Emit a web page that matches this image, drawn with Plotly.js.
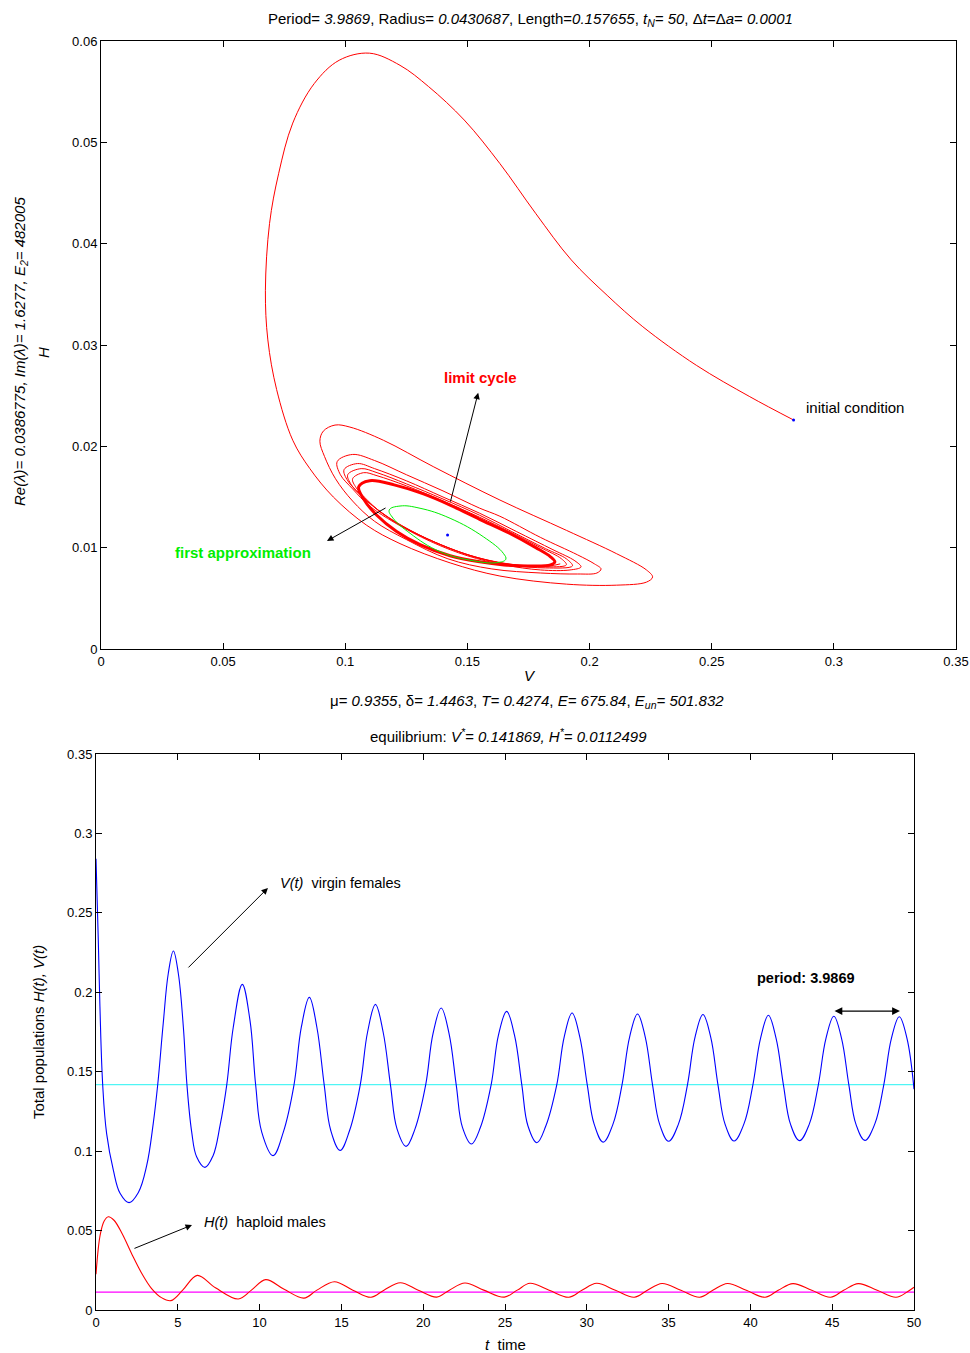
<!DOCTYPE html>
<html>
<head>
<meta charset="utf-8">
<script src="https://cdn.plot.ly/plotly-3.0.1.min.js"></script>
<style>html,body{margin:0;padding:0;background:#fff;}#chart{width:970px;height:1353px;}</style>
</head>
<body>
<div id="chart"></div>
<script>
// ---------- Phase plane data (V, H) ----------
const trajV = [0.2835,0.2656,0.2437,0.2218,0.2072,0.1925,0.1779,0.1633,0.1487,0.1341,0.1224,0.1099,0.0975,0.0873,0.0785,0.0727,0.0690,0.0673,0.0683,0.0719,0.0785,0.0855,0.0951,0.1088,0.1224,0.1429,0.1633,0.1906,0.2111,0.2233,0.2258,0.2233,0.2111,0.1906,0.1633,0.1360,0.1156,0.1019,0.0958,0.0910,0.0896,0.0915,0.0960,0.1030,0.1120,0.1250,0.1420,0.1600,0.1800,0.1950,0.2030,0.2047,0.2020,0.1950,0.1800,0.1633,0.1550,0.1400,0.1250,0.1120,0.1030,0.0967,0.0980,0.1030,0.1100,0.1200,0.1350,0.1500,0.1650,0.1800,0.1920,0.1965,0.1940,0.1850,0.1700,0.1550,0.1400,0.1250,0.1120,0.1050,0.0995,0.1010,0.1060,0.1130,0.1230,0.1380,0.1530,0.1680,0.1820,0.1930,0.1905,0.1820,0.1680,0.1550,0.1400,0.1250,0.1130,0.1065,0.1010,0.1025,0.1070,0.1140,0.1240,0.1390,0.1540,0.1690,0.1830,0.1905,0.1885,0.1800,0.1670,0.1550,0.1400,0.1250,0.1130,0.1075,0.1030,0.1045,0.1090,0.1150,0.1250,0.1400,0.1545,0.1700,0.1835,0.1880];
const trajH = [0.0226,0.0249,0.0280,0.0318,0.0349,0.0384,0.0430,0.0479,0.0522,0.0555,0.0576,0.0588,0.0581,0.0558,0.0519,0.0469,0.0420,0.0354,0.0305,0.0256,0.0206,0.0178,0.0150,0.0122,0.0104,0.0085,0.0072,0.0064,0.0063,0.0066,0.0071,0.0078,0.0094,0.0117,0.0147,0.0180,0.0206,0.0219,0.0221,0.0215,0.0205,0.0190,0.0168,0.0146,0.0126,0.0108,0.0089,0.0079,0.0075,0.0074,0.0075,0.0079,0.0084,0.0093,0.0110,0.0131,0.0139,0.0156,0.0172,0.0186,0.0192,0.0185,0.0172,0.0158,0.0141,0.0125,0.0106,0.0092,0.0083,0.0078,0.0078,0.0081,0.0087,0.0098,0.0116,0.0134,0.0150,0.0166,0.0178,0.0183,0.0177,0.0166,0.0153,0.0138,0.0122,0.0104,0.0091,0.0083,0.0080,0.0082,0.0089,0.0099,0.0116,0.0132,0.0148,0.0163,0.0174,0.0178,0.0172,0.0162,0.0150,0.0136,0.0120,0.0103,0.0090,0.0083,0.0081,0.0083,0.0089,0.0100,0.0116,0.0130,0.0146,0.0161,0.0171,0.0174,0.0168,0.0159,0.0147,0.0134,0.0119,0.0102,0.0090,0.0083,0.0082,0.0084];
// limit cycle (dense band of turns)
const cycleV = [0.1055,0.1100,0.1200,0.1320,0.1429,0.1550,0.1674,0.1780,0.1840,0.1858,0.1840,0.1750,0.1650,0.1550,0.1429,0.1306,0.1210,0.1129,0.1075,0.1055];
const cycleH = [0.0160,0.0166,0.0162,0.0153,0.0142,0.0128,0.0114,0.0100,0.0091,0.0086,0.0083,0.0082,0.0083,0.0086,0.0092,0.0103,0.0116,0.0132,0.0148,0.0160];
// first approximation (ellipse)
const approxV = [0.1180,0.1224,0.1306,0.1429,0.1565,0.1647,0.1657,0.1620,0.1524,0.1388,0.1265,0.1196,0.1180];
const approxH = [0.01372,0.01411,0.01389,0.01290,0.01108,0.00944,0.00885,0.00852,0.00871,0.00960,0.01142,0.01290,0.01372];
const Vstar = 0.141869, Hstar = 0.0112499;
const initV = 0.2835, initH = 0.0226;

// ---------- Time series ----------
const tV = [0,0.14,0.24,0.41,0.65,1.06,1.47,2.02,2.59,3.10,3.50,3.77,4.11,4.42,4.73,5.03,5.34,5.56,5.85,6.15,6.66,7.15,7.58,7.99,8.39,8.94,9.41,9.76,10.13,10.82,11.45,12.10,12.55,13.04,13.50,13.95,14.35,14.92,15.50,16.15,16.60,17.08,17.55,18.00,18.40,18.95,19.50,20.15,20.60,21.10,21.58,22.02,22.40,22.95,23.50,24.15,24.60,25.10,25.58,26.03,26.40,26.95,27.50,28.16,28.62,29.10,29.57,30.03,30.45,31.00,31.60,32.15,32.62,33.10,33.57,34.02,34.45,35.00,35.60,36.15,36.62,37.10,37.57,38.02,38.45,39.00,39.60,40.15,40.62,41.10,41.57,42.02,42.45,43.00,43.60,44.15,44.62,45.10,45.57,46.02,46.45,47.00,47.60,48.15,48.62,49.10,49.57,50.00];
const valV = [0.284,0.233,0.191,0.1416,0.111,0.088,0.0735,0.0676,0.0740,0.0910,0.1175,0.1416,0.1805,0.212,0.226,0.212,0.178,0.1416,0.112,0.0965,0.0898,0.0970,0.1160,0.1416,0.178,0.205,0.1825,0.1416,0.112,0.0972,0.112,0.1416,0.178,0.1968,0.178,0.1416,0.113,0.1005,0.113,0.1416,0.175,0.1924,0.175,0.1416,0.114,0.1030,0.114,0.1416,0.174,0.1901,0.174,0.1416,0.115,0.1045,0.115,0.1416,0.173,0.1880,0.173,0.1416,0.116,0.1053,0.116,0.1416,0.172,0.1870,0.172,0.1416,0.117,0.1057,0.117,0.1416,0.172,0.1863,0.172,0.1416,0.117,0.1062,0.117,0.1416,0.172,0.1860,0.172,0.1416,0.117,0.1064,0.117,0.1416,0.171,0.1855,0.171,0.1416,0.117,0.1066,0.117,0.1416,0.171,0.1849,0.171,0.1416,0.117,0.1068,0.117,0.1416,0.171,0.1846,0.171,0.139];
const tH = [0,0.25,0.5,0.75,1.1,1.6,2.2,2.8,3.4,4.0,4.58,5.3,6.19,7.3,8.7,9.5,10.37,11.5,12.71,13.5,14.57,15.7,16.81,17.6,18.6,19.7,20.82,21.6,22.55,23.7,24.96,25.75,26.53,27.7,28.9,29.7,30.6,31.75,32.9,33.7,34.6,35.75,36.9,37.7,38.6,39.75,40.9,41.7,42.6,43.75,44.9,45.7,46.6,47.75,48.9,49.6,50.0];
const valH = [0.0225,0.047,0.056,0.0587,0.0565,0.048,0.035,0.023,0.0135,0.0078,0.0059,0.0125,0.0218,0.0140,0.0069,0.0125,0.0191,0.0130,0.0075,0.0125,0.0178,0.0125,0.0080,0.0125,0.0172,0.0125,0.0081,0.0125,0.0170,0.0125,0.0081,0.0125,0.0168,0.0124,0.0080,0.0124,0.0168,0.0124,0.0080,0.0124,0.0167,0.0124,0.0080,0.0124,0.0167,0.0124,0.0080,0.0124,0.0166,0.0124,0.0080,0.0124,0.0166,0.0124,0.0080,0.0115,0.0143];

const xTicks1 = [0,0.05,0.1,0.15,0.2,0.25,0.3,0.35];
const yTicks1 = [0,0.01,0.02,0.03,0.04,0.05,0.06];
const xTicks2 = [0,5,10,15,20,25,30,35,40,45,50];
const yTicks2 = [0,0.05,0.1,0.15,0.2,0.25,0.3,0.35];
const periodLabel = 'period: 3.9869';
const periodStart = 45.05, periodEnd = 49.14, periodLevel = 0.1882;

const W = 970, Hh = 1353;
const px = v => v / W, py = v => 1 - v / Hh;
const FONT = 'Liberation Sans, Arial, sans-serif';
const TF = 15;

const traces = [
  {x: trajV, y: trajH, xaxis:'x', yaxis:'y', mode:'lines', line:{color:'#ff0000', width:1, shape:'spline', smoothing:1}},
  {x: cycleV, y: cycleH, xaxis:'x', yaxis:'y', mode:'lines', line:{color:'#ff0000', width:3, shape:'spline', smoothing:1}},
  {x: approxV, y: approxH, xaxis:'x', yaxis:'y', mode:'lines', line:{color:'#00ee00', width:1, shape:'spline', smoothing:1.2}},
  {x: [Vstar, initV], y: [Hstar, initH], xaxis:'x', yaxis:'y', mode:'markers', marker:{color:'#0000ff', size:3}},
  {x: [xTicks2[0], xTicks2[xTicks2.length-1]], y: [Vstar, Vstar], xaxis:'x2', yaxis:'y2', mode:'lines', line:{color:'#4ff5f5', width:1.3}},
  {x: [xTicks2[0], xTicks2[xTicks2.length-1]], y: [Hstar, Hstar], xaxis:'x2', yaxis:'y2', mode:'lines', line:{color:'#ff00ff', width:1.2}},
  {x: tV, y: valV, xaxis:'x2', yaxis:'y2', mode:'lines', line:{color:'#0000ff', width:1.1, shape:'spline', smoothing:1.1}},
  {x: tH, y: valH, xaxis:'x2', yaxis:'y2', mode:'lines', line:{color:'#ff0000', width:1.1, shape:'spline', smoothing:1}}
];

const axBase = {showgrid:false, zeroline:false, showline:true, linecolor:'#000', linewidth:1, mirror:'ticks', ticks:'inside', ticklen:6, tickcolor:'#000', tickfont:{size:13, family:FONT, color:'#000'}, automargin:false, fixedrange:true};

const annotations = [
  {xref:'paper', yref:'paper', x:px(530), y:py(20), showarrow:false, xanchor:'center', yanchor:'middle', font:{size:TF}, text:'Period= <i>3.9869</i>, Radius= <i>0.0430687</i>, Length=<i>0.157655</i>, <i>t<sub>N</sub>= 50</i>, Δ<i>t</i>=Δ<i>a</i>= <i>0.0001</i>'},
  {xref:'paper', yref:'paper', x:px(20), y:py(352), showarrow:false, textangle:-90, xanchor:'center', yanchor:'middle', font:{size:TF}, text:'<i>Re(λ)= 0.0386775, Im(λ)= 1.6277, E<sub>2</sub>= 482005</i>'},
  {xref:'paper', yref:'paper', x:px(43), y:py(353), showarrow:false, textangle:-90, xanchor:'center', yanchor:'middle', font:{size:TF}, text:'<i>H</i>'},
  {xref:'paper', yref:'paper', x:px(530), y:py(675), showarrow:false, xanchor:'center', yanchor:'middle', font:{size:TF}, text:'<i>V</i>'},
  {xref:'x', yref:'y', x:0.1555, y:0.0268, showarrow:false, font:{size:15, color:'#ff0000'}, text:'<b>limit cycle</b>'},
  {xref:'x', yref:'y', x:0.0581, y:0.00957, showarrow:false, font:{size:15, color:'#00ee00'}, text:'<b>first approximation</b>'},
  {xref:'x', yref:'y', x:0.2878, y:0.02388, showarrow:false, xanchor:'left', font:{size:TF}, text:'initial condition'},
  {xref:'x', yref:'y', axref:'x', ayref:'y', x:0.1544, y:0.0253, ax:0.1429, ay:0.0144, showarrow:true, arrowhead:2, arrowsize:1.3, arrowwidth:1, arrowcolor:'#000', text:''},
  {xref:'x', yref:'y', axref:'x', ayref:'y', x:0.0925, y:0.01066, ax:0.1171, ay:0.0140, showarrow:true, arrowhead:2, arrowsize:1.3, arrowwidth:1, arrowcolor:'#000', text:''},
  {xref:'paper', yref:'paper', x:px(527), y:py(702), showarrow:false, xanchor:'center', yanchor:'middle', font:{size:TF}, text:'μ= <i>0.9355</i>, δ= <i>1.4463</i>, <i>T= 0.4274</i>, <i>E= 675.84</i>, <i>E<sub>un</sub>= 501.832</i>'},
  {xref:'paper', yref:'paper', x:px(508), y:py(735), showarrow:false, xanchor:'center', yanchor:'middle', font:{size:TF}, text:'equilibrium: <i>V<sup>*</sup>= 0.141869, H<sup>*</sup>= 0.0112499</i>'},
  {xref:'paper', yref:'paper', x:px(38), y:py(1032), showarrow:false, textangle:-90, xanchor:'center', yanchor:'middle', font:{size:TF}, text:'Total populations <i>H(t), V(t)</i>'},
  {xref:'paper', yref:'paper', x:px(505), y:py(1344), showarrow:false, xanchor:'center', yanchor:'middle', font:{size:TF}, text:'<i>t</i>  time'},
  {xref:'x2', yref:'y2', x:11.12, y:0.2688, showarrow:false, xanchor:'left', font:{size:14.5}, text:'<i>V(t)</i>  virgin females'},
  {xref:'x2', yref:'y2', x:6.48, y:0.0554, showarrow:false, xanchor:'left', font:{size:14.5}, text:'<i>H(t)</i>  haploid males'},
  {xref:'x2', yref:'y2', axref:'x2', ayref:'y2', x:10.51, y:0.2657, ax:5.56, ay:0.2147, showarrow:true, arrowhead:2, arrowsize:1.3, arrowwidth:1, arrowcolor:'#000', text:''},
  {xref:'x2', yref:'y2', axref:'x2', ayref:'y2', x:5.87, y:0.0535, ax:2.26, ay:0.0384, showarrow:true, arrowhead:2, arrowsize:1.3, arrowwidth:1, arrowcolor:'#000', text:''},
  {xref:'x2', yref:'y2', x:43.4, y:0.209, showarrow:false, font:{size:14.5}, text:'<b>'+periodLabel+'</b>'},
  {xref:'x2', yref:'y2', axref:'x2', ayref:'y2', x:periodEnd, y:periodLevel, ax:periodStart, ay:periodLevel, showarrow:true, arrowhead:2, startarrowhead:2, arrowside:'end+start', arrowsize:1.3, arrowwidth:1.2, arrowcolor:'#000', text:''},
  {xref:'x2', yref:'y2', x:51.34, y:0.1467, showarrow:false, font:{size:15}, text:'<b><i>V</i></b><sup>*</sup>'},
  {xref:'x2', yref:'y2', x:51.4, y:0.0151, showarrow:false, font:{size:15}, text:'<b><i>H</i></b><sup>*</sup>'}
];

const layout = {
  width: W, height: Hh,
  margin: {l:0, r:0, t:0, b:0, pad:0},
  paper_bgcolor:'#fff', plot_bgcolor:'#fff',
  showlegend:false,
  font:{family:FONT, size:13, color:'#000'},
  xaxis: Object.assign({}, axBase, {domain:[101/W, 956/W], anchor:'y', range:[0,0.35], tickvals:xTicks1, ticktext:xTicks1.map(String)}),
  yaxis: Object.assign({}, axBase, {domain:[py(649), py(41)], anchor:'x', range:[0,0.06], tickvals:yTicks1, ticktext:yTicks1.map(String)}),
  xaxis2: Object.assign({}, axBase, {domain:[96/W, 914/W], anchor:'y2', range:[0,50], tickvals:xTicks2, ticktext:xTicks2.map(String)}),
  yaxis2: Object.assign({}, axBase, {domain:[py(1310), py(754)], anchor:'x2', range:[0,0.35], tickvals:yTicks2, ticktext:yTicks2.map(String)}),
  annotations: annotations
};

Plotly.newPlot('chart', traces, layout, {staticPlot:true, displayModeBar:false});
</script>
</body>
</html>
